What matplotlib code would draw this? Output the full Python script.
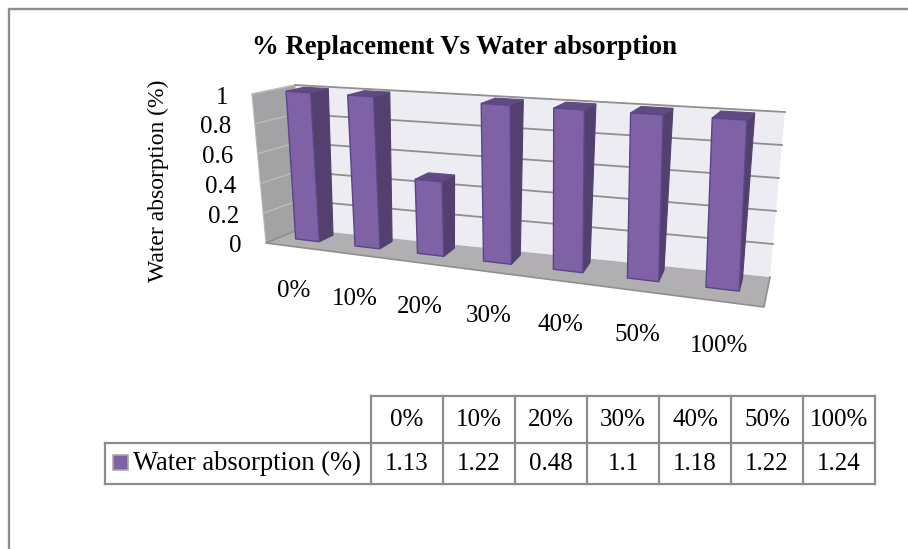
import numpy as np
import matplotlib
matplotlib.use("Agg")
import matplotlib.pyplot as plt
from matplotlib.patches import Polygon, Rectangle

plt.rcParams["font.family"] = ["Liberation Serif", "DejaVu Serif"]

# data
categories = ["0%", "10%", "20%", "30%", "40%", "50%", "100%"]
values = [1.13, 1.22, 0.48, 1.1, 1.18, 1.22, 1.24]
table_values = ["1.13", "1.22", "0.48", "1.1", "1.18", "1.22", "1.24"]
y_ticks = [0, 0.2, 0.4, 0.6, 0.8, 1]
y_tick_labels = ["0", "0.2", "0.4", "0.6", "0.8", "1"]
y_max = 1
series_name = "Water absorption (%)"

# corners of the 3d box in pixels: front/back, bottom/top, left/right
FBL = np.array([266, 243.0])
FBR = np.array([764, 307.0])
FTL = np.array([252, 94.0])
FTR = np.array([768, 129.0])
BBL = np.array([300, 229.0])
BBR = np.array([770, 277.0])
BTL = np.array([295, 85.0])
BTR = np.array([785, 112.0])

persp = 0.22
bar_half = 0.029
bar_shift = -0.004
bar_front = 0.42
bar_back = 0.85


def warp(u):
    return u / (persp * (1 - u) + 1)


def proj(u, v, d):
    # u along categories, v value 0..1, d depth 0 front 1 back
    w = warp(u)
    bottom = (FBL + (FBR - FBL) * w) * (1 - d) + (BBL + (BBR - BBL) * w) * d
    top = (FTL + (FTR - FTL) * w) * (1 - d) + (BTL + (BTR - BTL) * w) * d
    return bottom * (1 - v) + top * v


fig = plt.figure(figsize=(9.08, 5.49), dpi=100)
ax = fig.add_axes([0, 0, 1, 1])
ax.set_xlim(0, 908)
ax.set_ylim(549, 0)
ax.axis("off")

frame_col = "#8c8c8c"
ax.plot([9, 9, 908], [549, 9, 9], color=frame_col, lw=1.7, zorder=1)

# walls
wall_edge = "#8f8f8f"
ax.add_patch(Polygon([BBL, BBR, BTR, BTL], fc="#eeecf3", ec="none", zorder=2))
ax.add_patch(Polygon([FBL, BBL, BTL, FTL], fc="#a3a3a6", ec="#b5b5b5", lw=0.8, zorder=2))
ax.add_patch(Polygon([FBL, FBR, BBR, BBL], fc="#b1afb2", ec="none", zorder=2))
ax.plot([BBL[0], FBL[0], FBR[0], BBR[0]], [BBL[1], FBL[1], FBR[1], BBR[1]], color=wall_edge, lw=1.2, zorder=3)

# gridlines on back and side wall
for t in y_ticks[1:]:
    v = t / y_max
    a = proj(0, v, 0)
    b = proj(0, v, 1)
    c = proj(1, v, 1)
    ax.plot([a[0], b[0]], [a[1], b[1]], color="#bdbdbd", lw=1, zorder=3)
    ax.plot([b[0], c[0]], [b[1], c[1]], color=wall_edge, lw=1.3, zorder=3)

# bars
n = len(categories)
for i, val in enumerate(values):
    uc = (i + 0.5) / n + bar_shift
    u0, u1 = uc - bar_half, uc + bar_half
    h = min(val, y_max) / y_max
    top_col = "#5f4a82"
    side_col = "#54406f"
    front_col = "#7f61a5"
    ax.add_patch(Polygon([proj(u1, 0, bar_front), proj(u1, 0, bar_back), proj(u1, h, bar_back), proj(u1, h, bar_front)],
                         fc=side_col, ec=side_col, lw=0.8, zorder=4 + i))
    ax.add_patch(Polygon([proj(u0, h, bar_front), proj(u1, h, bar_front), proj(u1, h, bar_back), proj(u0, h, bar_back)],
                         fc=top_col, ec=top_col, lw=0.8, zorder=4 + i))
    ax.add_patch(Polygon([proj(u0, 0, bar_front), proj(u1, 0, bar_front), proj(u1, h, bar_front), proj(u0, h, bar_front)],
                         fc=front_col, ec="#5a4588", lw=1, zorder=4 + i))

# text
ax.text(464.5, 48, "% Replacement Vs Water absorption", fontsize=19.3, fontweight="bold",
        ha="center", va="center", zorder=20)
ax.text(158, 180.5, series_name, fontsize=17, rotation=90, ha="center", va="center", zorder=20)

for t, lab in zip(y_ticks, y_tick_labels):
    p = proj(0, t / y_max, 0)
    ax.text(p[0] - 24, p[1] + 3.5, lab, fontsize=18, ha="right", va="center", zorder=20)

for i, lab in enumerate(categories):
    p = proj((i + 0.5) / n, 0, 0)
    ax.text(p[0] - 2, p[1] + 44, lab, fontsize=18, ha="center", va="center", zorder=20)

# data table under the chart
col_x = np.linspace(371, 875, n + 1)
row_y = [396, 443, 484]
table_left = 105
for x in col_x:
    ax.plot([x, x], [row_y[0], row_y[2]], color=frame_col, lw=1.6, zorder=10)
ax.plot([col_x[0], col_x[-1]], [row_y[0], row_y[0]], color=frame_col, lw=1.6, zorder=10)
ax.plot([table_left, col_x[-1]], [row_y[1], row_y[1]], color=frame_col, lw=1.6, zorder=10)
ax.plot([table_left, col_x[-1]], [row_y[2], row_y[2]], color=frame_col, lw=1.6, zorder=10)
ax.plot([table_left, table_left], [row_y[1], row_y[2]], color=frame_col, lw=1.6, zorder=10)

for i in range(n):
    xc = (col_x[i] + col_x[i + 1]) / 2
    ax.text(xc, (row_y[0] + row_y[1]) / 2 + 1, categories[i], fontsize=18, ha="center", va="center", zorder=20)
    ax.text(xc, (row_y[1] + row_y[2]) / 2 + 1, table_values[i], fontsize=18, ha="center", va="center", zorder=20)

ax.add_patch(Rectangle((113, 455), 15, 15, fc="#7f61a5", ec="#a9a9a9", lw=1.2, zorder=11))
ax.text(133, 463, series_name, fontsize=19.2, ha="left", va="center", zorder=20)

fig.savefig("out.png", dpi=100)
